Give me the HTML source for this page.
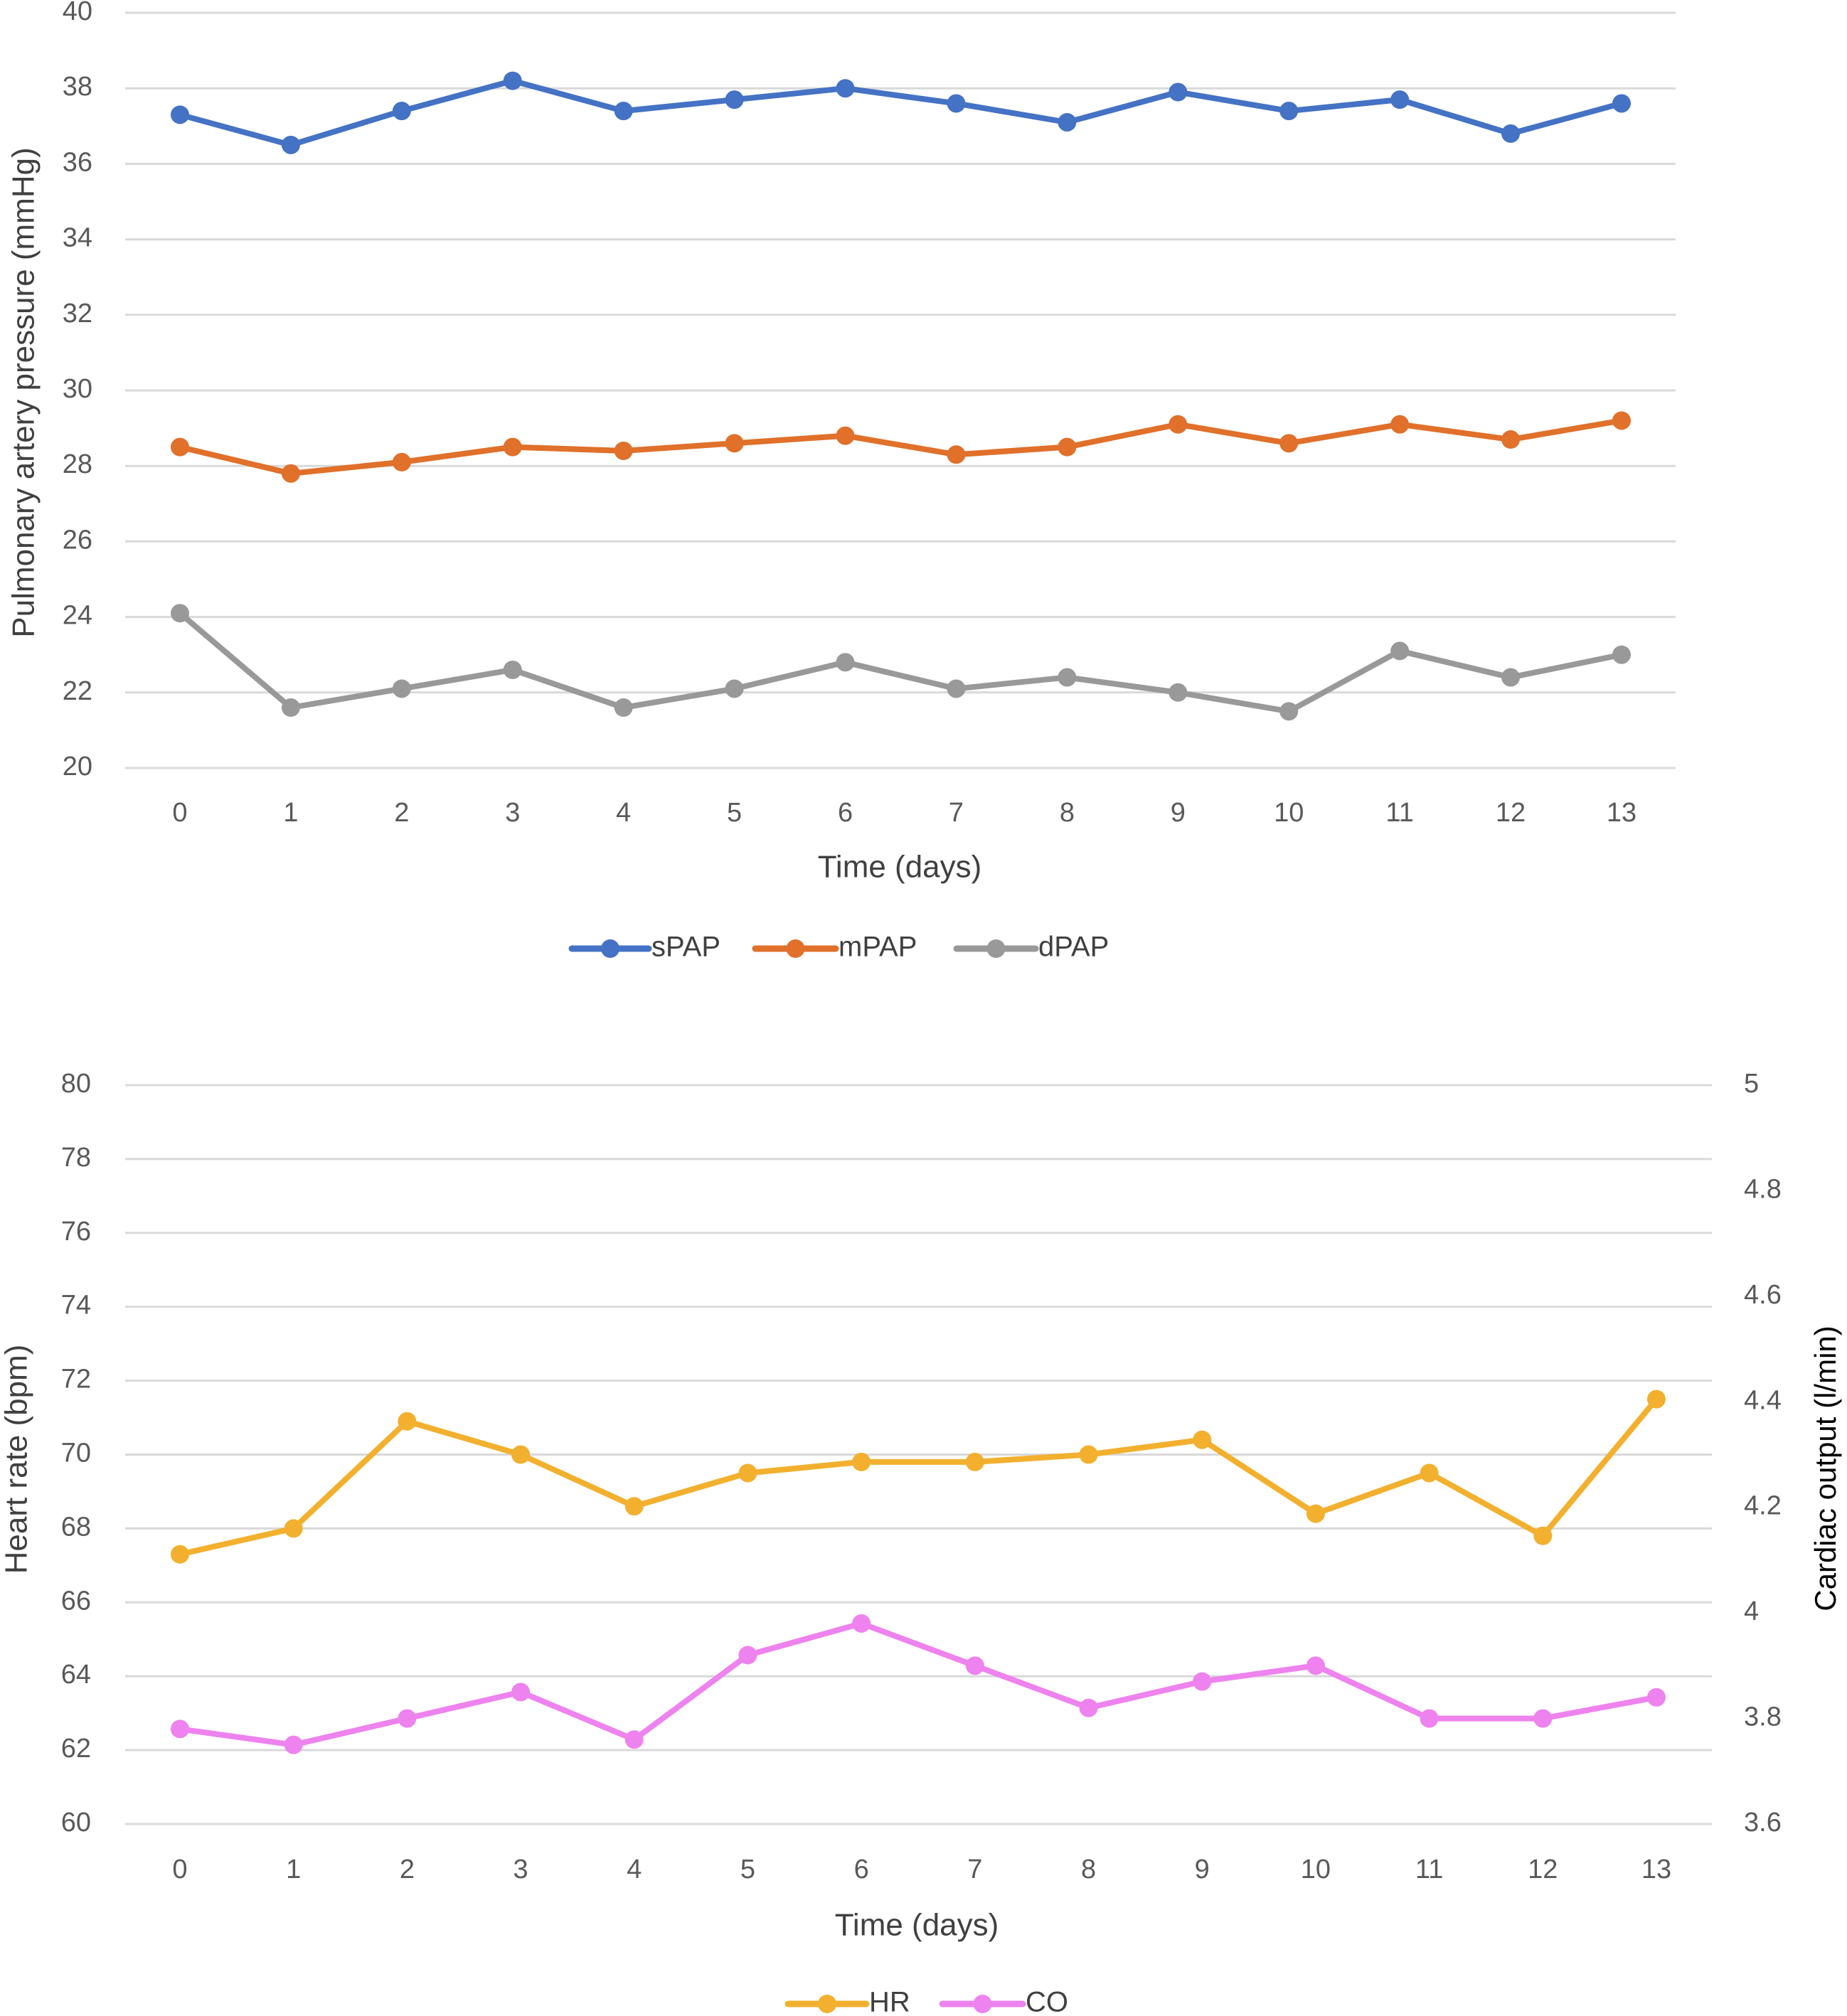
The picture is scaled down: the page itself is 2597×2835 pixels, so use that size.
<!DOCTYPE html>
<html><head><meta charset="utf-8">
<style>
html,body{margin:0;padding:0;background:#fff;}
svg{display:block;font-family:"Liberation Sans",sans-serif;}
</style></head>
<body>
<svg id="c" width="2597" height="2835" viewBox="0 0 2597 2835" xmlns="http://www.w3.org/2000/svg"></svg>
<script>
const days = [0,1,2,3,4,5,6,7,8,9,10,11,12,13];
const sPAP = [37.3,36.5,37.4,38.2,37.4,37.7,38.0,37.6,37.1,37.9,37.4,37.7,36.8,37.6];
const mPAP = [28.5,27.8,28.1,28.5,28.4,28.6,28.8,28.3,28.5,29.1,28.6,29.1,28.7,29.2];
const dPAP = [24.1,21.6,22.1,22.6,21.6,22.1,22.8,22.1,22.4,22.0,21.5,23.1,22.4,23.0];
const topTicks = [20,22,24,26,28,30,32,34,36,38,40];
const HR = [67.3,68.0,70.9,70.0,68.6,69.5,69.8,69.8,70.0,70.4,68.4,69.5,67.8,71.5];
const CO = [3.78,3.75,3.80,3.85,3.76,3.92,3.98,3.90,3.82,3.87,3.90,3.80,3.80,3.84];
const hrTicks = [60,62,64,66,68,70,72,74,76,78,80];
const coTicks = ["3.6","3.8","4","4.2","4.4","4.6","4.8","5"];

const svg = document.getElementById('c');
const NS = 'http://www.w3.org/2000/svg';
function mk(tag, attrs, parent){
  const e = document.createElementNS(NS, tag);
  for (const k in attrs) e.setAttribute(k, attrs[k]);
  (parent||svg).appendChild(e);
  return e;
}
function txt(s, x, y, size, anchor, fill, parent){
  const t = mk('text', {x:x, y:y, 'font-size':size, 'text-anchor':anchor||'middle', fill:fill||'#404040', 'dominant-baseline':'middle'}, parent);
  t.textContent = s;
  return t;
}

// ---------- TOP CHART ----------
const T = {x0:176, x1:2356, y0:1080, y1:18, min:20, max:40, c0:253, c13:2280};
const tx = i => T.c0 + (T.c13 - T.c0) * i / 13;
const ty = v => T.y0 - (v - T.min) / (T.max - T.min) * (T.y0 - T.y1);
const gTop = mk('g', {});


topTicks.forEach(v => {
  const l = mk('line', {x1:T.x0, x2:T.x1, y1:ty(v), y2:ty(v), stroke:'#d9d9d9', 'stroke-width':3}, gTop);
  
  
  const t = txt(String(v), 130, ty(v), 38, 'end', '#595959', gTop);
  
  
});
days.forEach((d, i) => {
  const t = txt(String(d), tx(i), 1145, 38, 'middle', '#595959', gTop);
  
  
});
{
  const t = txt('Time (days)', 1265, 1222, 44, 'middle', '#404040', gTop);
  
  
  const y = txt('Pulmonary artery pressure (mmHg)', 0, 0, 44, 'middle', '#404040', gTop);
  y.setAttribute('transform', 'translate(36,552) rotate(-90)');
  
  
}
function series(vals, fx, fy, color, name, parent){
  const pts = vals.map((v, i) => fx(i) + ',' + fy(v)).join(' ');
  const pl = mk('polyline', {points:pts, fill:'none', stroke:color, 'stroke-width':8, 'stroke-linejoin':'round'}, parent);
  
  
  vals.forEach((v, i) => {
    const c = mk('circle', {cx:fx(i), cy:fy(v), r:13, fill:color}, parent);
    
    
  });
}
series(sPAP, tx, ty, '#4472C4', 'spap', gTop);
series(mPAP, tx, ty, '#E0702A', 'mpap', gTop);
series(dPAP, tx, ty, '#999999', 'dpap', gTop);

function legendItem(x1, x2, y, color, label, name){
  const g = mk('g', {});
  
  
  mk('line', {x1:x1, x2:x2, y1:y, y2:y, stroke:color, 'stroke-width':9, 'stroke-linecap':'round'}, g);
  mk('circle', {cx:(x1+x2)/2, cy:y, r:13, fill:color}, g);
  txt(label, x2 + 4, y, 40, 'start', '#404040', g);
}
legendItem(804, 912, 1334, '#4472C4', 'sPAP', 'legend-entry-spap');
legendItem(1062, 1175, 1334, '#E0702A', 'mPAP', 'legend-entry-mpap');
legendItem(1345, 1456, 1334, '#999999', 'dPAP', 'legend-entry-dpap');

// ---------- BOTTOM CHART ----------
const B = {x0:176, x1:2407, y0:2565, y1:1526, c0:253, c13:2329};
const bx = i => B.c0 + (B.c13 - B.c0) * i / 13;
const byL = v => B.y0 - (v - 60) / 20 * (B.y0 - B.y1);
const byR = v => B.y0 - (v - 3.6) / 1.4 * (B.y0 - B.y1);
const gBot = mk('g', {});


hrTicks.forEach(v => {
  const l = mk('line', {x1:B.x0, x2:B.x1, y1:byL(v), y2:byL(v), stroke:'#d9d9d9', 'stroke-width':3}, gBot);
  
  
  const t = txt(String(v), 128, byL(v), 38, 'end', '#595959', gBot);
  
  
});
coTicks.forEach(s => {
  const t = txt(s, 2452, byR(parseFloat(s)), 38, 'start', '#595959', gBot);
  
  
});
days.forEach((d, i) => {
  const t = txt(String(d), bx(i), 2631, 38, 'middle', '#595959', gBot);
  
  
});
{
  const t = txt('Time (days)', 1289, 2710, 44, 'middle', '#404040', gBot);
  
  
  const y = txt('Heart rate (bpm)', 0, 0, 44, 'middle', '#404040', gBot);
  y.setAttribute('transform', 'translate(26,2052) rotate(-90)');
  
  
  const r = txt('Cardiac output (l/min)', 0, 0, 42, 'middle', '#000000', gBot);
  r.setAttribute('transform', 'translate(2570,2065) rotate(-90)');
  
  
}
series(HR, bx, byL, '#F2B02E', 'hr', gBot);
series(CO, bx, byR, '#EE82EE', 'co', gBot);
legendItem(1108, 1218, 2818, '#F2B02E', 'HR', 'legend-entry-hr');
legendItem(1325, 1438, 2818, '#EE82EE', 'CO', 'legend-entry-co');
</script>
</body></html>
